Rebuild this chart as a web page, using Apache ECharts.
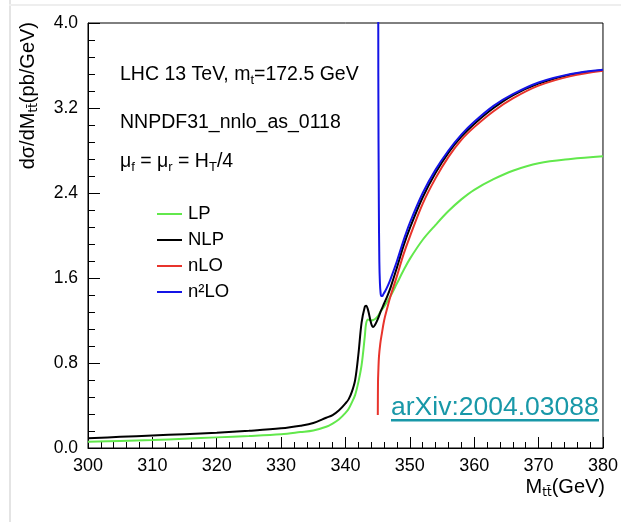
<!DOCTYPE html>
<html>
<head>
<meta charset="utf-8">
<script src="https://cdn.jsdelivr.net/npm/echarts@6/dist/echarts.min.js"></script>
<style>
html, body { margin: 0; padding: 0; background: #ffffff; }
#chart { width: 621px; height: 522px; }
</style>
</head>
<body>
<div id="chart"></div>
<script>
// Invariant mass grid (GeV) shared by the LP and NLP curves
const lpMass = [300, 305, 310, 315, 320, 325, 330, 333, 335, 337, 338, 339, 340, 340.5, 341, 341.5, 342, 342.5, 343, 343.2, 343.5, 344, 344.3, 344.6, 345, 345.5, 346, 346.5, 347, 348, 349, 350, 352, 354, 356, 358, 360, 363, 366, 370, 375, 380];

// LP: leading power
const lpValues = [0.059, 0.067, 0.075, 0.087, 0.100, 0.113, 0.130, 0.150, 0.165, 0.200, 0.230, 0.270, 0.330, 0.370, 0.430, 0.500, 0.620, 0.780, 1.050, 1.170, 1.210, 1.200, 1.205, 1.215, 1.240, 1.290, 1.330, 1.380, 1.430, 1.550, 1.670, 1.780, 1.960, 2.100, 2.230, 2.340, 2.430, 2.530, 2.610, 2.680, 2.720, 2.745];

// NLP: next-to-leading power
const nlpValues = [0.091, 0.105, 0.118, 0.130, 0.144, 0.162, 0.185, 0.210, 0.235, 0.285, 0.310, 0.355, 0.420, 0.460, 0.530, 0.640, 0.880, 1.180, 1.330, 1.340, 1.300, 1.170, 1.140, 1.160, 1.210, 1.290, 1.360, 1.430, 1.510, 1.700, 1.900, 2.070, 2.360, 2.590, 2.780, 2.930, 3.050, 3.200, 3.320, 3.430, 3.515, 3.555];

// nLO: starts at the threshold 2 m_t
const nloMass = [345.02, 345.05, 345.1, 345.2, 345.4, 345.6, 346, 346.5, 347, 348, 349, 350, 352, 354, 356, 358, 360, 363, 366, 370, 375, 380];
const nloValues = [0.31, 0.62, 0.72, 0.86, 0.98, 1.06, 1.20, 1.32, 1.43, 1.62, 1.82, 1.99, 2.30, 2.54, 2.74, 2.90, 3.02, 3.17, 3.29, 3.41, 3.50, 3.55];

// n2LO: singular right at threshold
const n2loMass = [345.03, 345.1, 345.18, 345.26, 345.35, 345.45, 345.55, 345.7, 345.9, 346.2, 346.6, 347, 348, 349, 350, 352, 354, 356, 358, 360, 363, 366, 370, 375, 380];
const n2loValues = [9.0, 3.5, 2.3, 1.75, 1.55, 1.46, 1.43, 1.43, 1.45, 1.48, 1.53, 1.59, 1.76, 1.95, 2.12, 2.40, 2.62, 2.80, 2.95, 3.07, 3.22, 3.33, 3.44, 3.52, 3.56];

const seriesNames = ['LP', 'NLP', 'nLO', 'n\u00b2LO'];
const seriesColors = ['#62e84c', '#000000', '#e8342c', '#1414e6'];

const pairs = (xs, ys) => xs.map((x, i) => [x, ys[i]]);
const curves = [
  pairs(lpMass, lpValues),
  pairs(lpMass, nlpValues),
  pairs(nloMass, nloValues),
  pairs(n2loMass, n2loValues)
];

const FONT = 'Liberation Sans';
const chart = echarts.init(document.getElementById('chart'), null, { renderer: 'canvas' });

const subRich = {
  main: { fontFamily: FONT, fontSize: 19.5, lineHeight: 24, color: '#000' },
  sub: { fontFamily: FONT, fontSize: 13, lineHeight: 13, color: '#000', verticalAlign: 'bottom' }
};
const titleRich = {
  main: { fontFamily: FONT, fontSize: 20, lineHeight: 24, color: '#000' },
  sub: { fontFamily: 'DejaVu Sans', fontSize: 12, lineHeight: 14, color: '#000', verticalAlign: 'bottom' }
};

chart.setOption({
  animation: false,
  backgroundColor: '#ffffff',
  grid: { left: 88, right: 16, top: 23, bottom: 74, show: true, borderColor: '#000', borderWidth: 1, backgroundColor: 'transparent' },
  xAxis: {
    type: 'value', min: 300, max: 380, interval: 10,
    axisLine: { show: true, lineStyle: { color: '#000', width: 1 } },
    axisTick: { show: true, inside: true, length: 11, lineStyle: { color: '#000' } },
    minorTick: { show: true, splitNumber: 5, length: 6, lineStyle: { color: '#000' } },
    splitLine: { show: false },
    axisLabel: { fontFamily: FONT, fontSize: 18, color: '#000', margin: 9 }
  },
  yAxis: {
    type: 'value', min: 0, max: 4, interval: 0.8,
    axisLine: { show: true, lineStyle: { color: '#000', width: 1 } },
    axisTick: { show: true, inside: true, length: 12, lineStyle: { color: '#000' } },
    minorTick: { show: true, splitNumber: 5, length: 7, lineStyle: { color: '#000' } },
    splitLine: { show: false },
    axisLabel: { fontFamily: FONT, fontSize: 17.5, color: '#000', margin: 10, formatter: v => v.toFixed(1) }
  },
  legend: {
    orient: 'vertical', left: 152, top: 199,
    icon: 'rect', itemWidth: 25, itemHeight: 2, itemGap: 6,
    textStyle: { fontFamily: FONT, fontSize: 18.5, lineHeight: 20, color: '#000', padding: [0, 0, 0, 1] },
    data: seriesNames
  },
  series: curves.map((data, i) => ({
    name: seriesNames[i],
    type: 'line',
    data: data,
    showSymbol: false,
    symbol: 'none',
    smooth: 0.35,
    clip: true,
    z: 2 + i,
    color: seriesColors[i],
    lineStyle: { color: seriesColors[i], width: 2 }
  })),
  graphic: [
    // soft frame along the left and top edges
    { type: 'rect', shape: { x: 9, y: 0, width: 2, height: 522 }, style: { fill: '#e4e4e4' }, silent: true },
    { type: 'rect', shape: { x: 9, y: 4, width: 612, height: 2 }, style: { fill: '#eeeeee' }, silent: true },
    {
      type: 'text', x: 120, y: 75,
      style: { text: '{main|LHC 13 TeV, m}{sub|t}{main|=172.5 GeV}', rich: subRich, verticalAlign: 'middle', align: 'left' }
    },
    {
      type: 'text', x: 120, y: 123,
      style: { text: '{main|NNPDF31_nnlo_as_0118}', rich: subRich, verticalAlign: 'middle', align: 'left' }
    },
    {
      type: 'text', x: 120, y: 162,
      style: { text: '{main|\u03bc}{sub|f}{main| = \u03bc}{sub|r}{main| = H}{sub|T}{main|/4}', rich: subRich, verticalAlign: 'middle', align: 'left' }
    },
    {
      type: 'text', x: 28, y: 22, rotation: Math.PI / 2,
      style: { text: '{main|d\u03c3/dM}{sub|tt\u0304}{main|(pb/GeV)}', rich: titleRich, align: 'right', verticalAlign: 'middle' }
    },
    {
      type: 'text', x: 605, y: 487,
      style: { text: '{main|M}{sub|tt\u0304}{main|(GeV)}', rich: titleRich, align: 'right', verticalAlign: 'middle' }
    },
    {
      type: 'text', x: 391, y: 408,
      style: { text: 'arXiv:2004.03088', fontFamily: FONT, fontSize: 26.5, fill: '#1898a8', align: 'left', verticalAlign: 'middle' }
    },
    { type: 'rect', shape: { x: 391, y: 419, width: 208, height: 2.5 }, style: { fill: '#1898a8' }, silent: true }
  ]
});
</script>
</body>
</html>
